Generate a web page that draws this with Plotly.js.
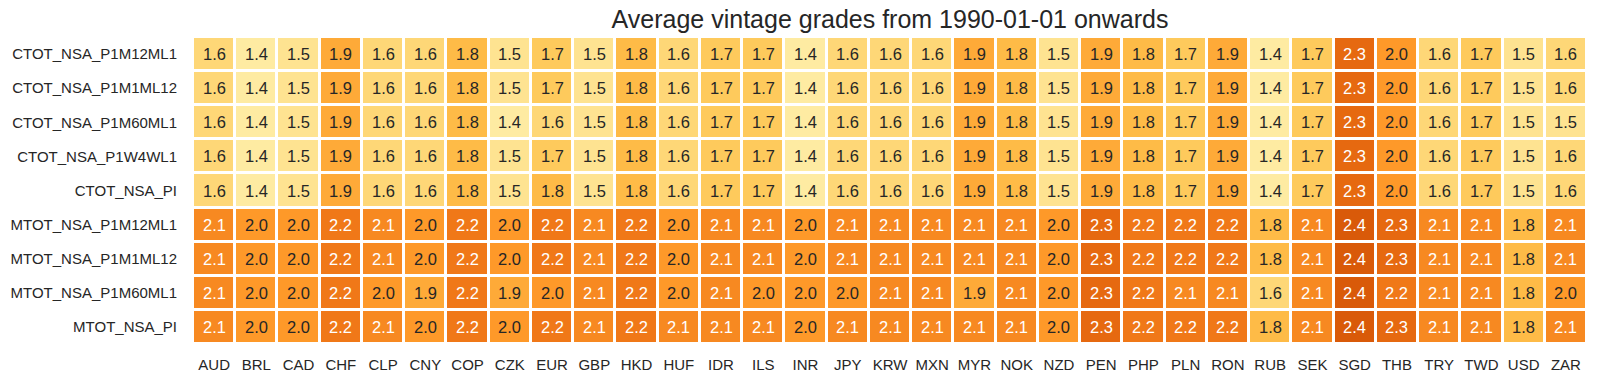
<!DOCTYPE html>
<html>
<head>
<meta charset="utf-8">
<script src="https://cdn.plot.ly/plotly-3.0.1.min.js"></script>
<style>html,body{margin:0;padding:0;background:#fff;}#chart{width:1597px;height:381px;}</style>
</head>
<body>
<div id="chart"></div>
<script>
const currencies = ["AUD","BRL","CAD","CHF","CLP","CNY","COP","CZK","EUR","GBP","HKD","HUF","IDR","ILS","INR","JPY","KRW","MXN","MYR","NOK","NZD","PEN","PHP","PLN","RON","RUB","SEK","SGD","THB","TRY","TWD","USD","ZAR"];
const indicators = ["CTOT_NSA_P1M12ML1","CTOT_NSA_P1M1ML12","CTOT_NSA_P1M60ML1","CTOT_NSA_P1W4WL1","CTOT_NSA_PI","MTOT_NSA_P1M12ML1","MTOT_NSA_P1M1ML12","MTOT_NSA_P1M60ML1","MTOT_NSA_PI"];

const ctot_p1m12ml1 = [1.6,1.4,1.5,1.9,1.6,1.6,1.8,1.5,1.7,1.5,1.8,1.6,1.7,1.7,1.4,1.6,1.6,1.6,1.9,1.8,1.5,1.9,1.8,1.7,1.9,1.4,1.7,2.3,2.0,1.6,1.7,1.5,1.6];
const ctot_p1m1ml12 = [1.6,1.4,1.5,1.9,1.6,1.6,1.8,1.5,1.7,1.5,1.8,1.6,1.7,1.7,1.4,1.6,1.6,1.6,1.9,1.8,1.5,1.9,1.8,1.7,1.9,1.4,1.7,2.3,2.0,1.6,1.7,1.5,1.6];
const ctot_p1m60ml1 = [1.6,1.4,1.5,1.9,1.6,1.6,1.8,1.4,1.6,1.5,1.8,1.6,1.7,1.7,1.4,1.6,1.6,1.6,1.9,1.8,1.5,1.9,1.8,1.7,1.9,1.4,1.7,2.3,2.0,1.6,1.7,1.5,1.5];
const ctot_p1w4wl1  = [1.6,1.4,1.5,1.9,1.6,1.6,1.8,1.5,1.7,1.5,1.8,1.6,1.7,1.7,1.4,1.6,1.6,1.6,1.9,1.8,1.5,1.9,1.8,1.7,1.9,1.4,1.7,2.3,2.0,1.6,1.7,1.5,1.6];
const ctot_pi       = [1.6,1.4,1.5,1.9,1.6,1.6,1.8,1.5,1.8,1.5,1.8,1.6,1.7,1.7,1.4,1.6,1.6,1.6,1.9,1.8,1.5,1.9,1.8,1.7,1.9,1.4,1.7,2.3,2.0,1.6,1.7,1.5,1.6];
const mtot_p1m12ml1 = [2.1,2.0,2.0,2.2,2.1,2.0,2.2,2.0,2.2,2.1,2.2,2.0,2.1,2.1,2.0,2.1,2.1,2.1,2.1,2.1,2.0,2.3,2.2,2.2,2.2,1.8,2.1,2.4,2.3,2.1,2.1,1.8,2.1];
const mtot_p1m1ml12 = [2.1,2.0,2.0,2.2,2.1,2.0,2.2,2.0,2.2,2.1,2.2,2.0,2.1,2.1,2.0,2.1,2.1,2.1,2.1,2.1,2.0,2.3,2.2,2.2,2.2,1.8,2.1,2.4,2.3,2.1,2.1,1.8,2.1];
const mtot_p1m60ml1 = [2.1,2.0,2.0,2.2,2.0,1.9,2.2,1.9,2.0,2.1,2.2,2.0,2.1,2.0,2.0,2.0,2.1,2.1,1.9,2.1,2.0,2.3,2.2,2.1,2.1,1.6,2.1,2.4,2.2,2.1,2.1,1.8,2.0];
const mtot_pi       = [2.1,2.0,2.0,2.2,2.1,2.0,2.2,2.0,2.2,2.1,2.2,2.1,2.1,2.1,2.0,2.1,2.1,2.1,2.1,2.1,2.0,2.3,2.2,2.2,2.2,1.8,2.1,2.4,2.3,2.1,2.1,1.8,2.1];

const z = [ctot_p1m12ml1, ctot_p1m1ml12, ctot_p1m60ml1, ctot_p1w4wl1, ctot_pi,
           mtot_p1m12ml1, mtot_p1m1ml12, mtot_p1m60ml1, mtot_pi];

const ylorbr = [
  [0.0,"#ffffe5"],[0.125,"#fff7bc"],[0.25,"#fee391"],[0.375,"#fec44f"],
  [0.5,"#fe9929"],[0.625,"#ec7014"],[0.75,"#cc4c02"],[0.875,"#993404"],[1.0,"#662506"]
];

const FONT = "Liberation Sans, Arial, sans-serif";
const annotations = [];
z.forEach((row, i) => {
  row.forEach((v, j) => {
    annotations.push({
      x: currencies[j], y: indicators[i], xref: "x", yref: "y",
      text: v.toFixed(1), showarrow: false,
      font: {family: FONT, size: 16.5, color: v >= 2.05 ? "#ffffff" : "#262626"}
    });
  });
});

const trace = {
  type: "heatmap",
  x: currencies, y: indicators, z: z,
  colorscale: ylorbr, zmin: 1, zmax: 3,
  showscale: false, xgap: 3, ygap: 3,
  hoverongaps: false
};

const layout = {
  width: 1597, height: 381,
  margin: {l: 192.5, r: 9.5, t: 36.5, b: 37, pad: 0},
  paper_bgcolor: "#ffffff", plot_bgcolor: "#ffffff",
  font: {family: FONT, color: "#262626"},
  title: {
    text: "Average vintage grades from 1990-01-01 onwards",
    font: {family: FONT, size: 25, color: "#262626"},
    x: 0.5, xref: "paper", y: 1 - 19.5/381, yref: "container", yanchor: "middle", xanchor: "center"
  },
  xaxis: {
    type: "category", showgrid: false, zeroline: false, showline: false,
    ticks: "outside", ticklen: 7, tickcolor: "rgba(0,0,0,0)",
    tickfont: {family: FONT, size: 15, color: "#262626"}
  },
  yaxis: {
    type: "category", autorange: "reversed", showgrid: false, zeroline: false, showline: false,
    ticks: "outside", ticklen: 12, tickcolor: "rgba(0,0,0,0)",
    tickfont: {family: FONT, size: 15, color: "#262626"}
  },
  annotations: annotations
};

Plotly.newPlot("chart", [trace], layout, {staticPlot: true, displayModeBar: false});
</script>
</body>
</html>
